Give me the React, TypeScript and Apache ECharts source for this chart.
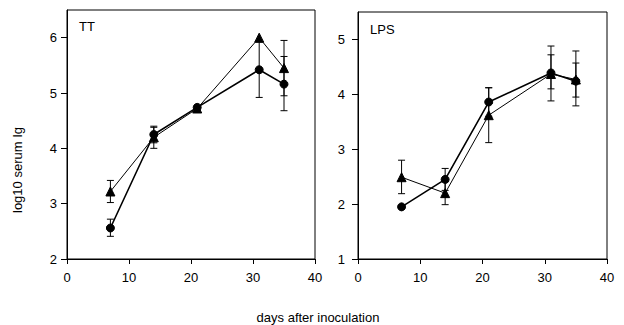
import React, { useEffect, useRef } from "react";
import * as echarts from "echarts";

const days = [7, 14, 21, 31, 35];

// TT panel
const ttTriMean = [3.22, 4.2, 4.72, 6.0, 5.45];
const ttTriLow = [3.02, 4.0, null, null, 4.95];
const ttTriHigh = [3.42, 4.4, null, null, 5.95];
const ttCirMean = [2.56, 4.25, 4.74, 5.42, 5.16];
const ttCirLow = [2.41, 4.1, null, 4.92, 4.68];
const ttCirHigh = [2.72, 4.38, null, 5.92, 5.66];

// LPS panel
const lpsTriMean = [2.49, 2.2, 3.62, 4.37, 4.27];
const lpsTriLow = [2.19, 1.99, 3.12, 3.88, 3.79];
const lpsTriHigh = [2.8, 2.41, 4.12, 4.88, 4.79];
const lpsCirMean = [1.95, 2.45, 3.86, 4.39, 4.24];
const lpsCirLow = [null, 2.25, 3.6, 4.1, 3.95];
const lpsCirHigh = [null, 2.65, 4.12, 4.72, 4.57];

const xTicks = [0, 10, 20, 30, 40];
const ttYTicks = [2, 3, 4, 5, 6];
const lpsYTicks = [1, 2, 3, 4, 5];

const FONT = "Liberation Sans, Arial, sans-serif";

function pairs(mean: number[]) {
  return days.map((d, i) => [d, mean[i]]);
}
function errData(low: (number | null)[], high: (number | null)[]) {
  const out: number[][] = [];
  days.forEach((d, i) => {
    if (low[i] != null && high[i] != null) out.push([d, low[i] as number, high[i] as number]);
  });
  return out;
}

function errSeries(idx: number, low: (number | null)[], high: (number | null)[]) {
  return {
    type: "custom",
    xAxisIndex: idx,
    yAxisIndex: idx,
    z: 1,
    encode: { x: 0, y: [1, 2] },
    data: errData(low, high),
    renderItem: (params: any, api: any) => {
      const x = api.value(0);
      const p1 = api.coord([x, api.value(1)]);
      const p2 = api.coord([x, api.value(2)]);
      const w = 3.5;
      const st = { stroke: "#000", lineWidth: 1 };
      return {
        type: "group",
        children: [
          { type: "line", shape: { x1: p1[0], y1: p1[1], x2: p2[0], y2: p2[1] }, style: st },
          { type: "line", shape: { x1: p1[0] - w, y1: p1[1], x2: p1[0] + w, y2: p1[1] }, style: st },
          { type: "line", shape: { x1: p2[0] - w, y1: p2[1], x2: p2[0] + w, y2: p2[1] }, style: st },
        ],
      };
    },
  };
}

function lineSeries(idx: number, mean: number[], symbol: string, size: number, lw: number) {
  return {
    type: "line",
    xAxisIndex: idx,
    yAxisIndex: idx,
    z: 3,
    data: pairs(mean),
    symbol,
    symbolSize: size,
    showAllSymbol: true,
    itemStyle: { color: "#000", borderColor: "#000" },
    lineStyle: { color: "#000", width: lw },
  };
}

function xAxis(idx: number) {
  return {
    type: "value",
    gridIndex: idx,
    min: 0,
    max: 40,
    interval: 10,
    axisLine: { show: true, lineStyle: { color: "#000", width: 1 } },
    axisTick: { show: true, length: 5, lineStyle: { color: "#000" }, customValues: xTicks },
    axisLabel: { color: "#000", fontSize: 13, fontFamily: FONT, margin: 12, customValues: xTicks },
    splitLine: { show: false },
  };
}

function yAxis(idx: number, min: number, max: number, ticks: number[], margin: number) {
  return {
    type: "value",
    gridIndex: idx,
    min,
    max,
    axisLine: { show: true, lineStyle: { color: "#000", width: 1 } },
    axisTick: { show: true, length: 6, lineStyle: { color: "#000" }, customValues: ticks },
    axisLabel: { color: "#000", fontSize: 13, fontFamily: FONT, margin, customValues: ticks },
    splitLine: { show: false },
  };
}

export default function App() {
  const ref = useRef<HTMLDivElement>(null);
  useEffect(() => {
    if (!ref.current) return;
    const chart = echarts.init(ref.current, null, { renderer: "svg" });
    chart.setOption({
      animation: false,
      backgroundColor: "#fff",
      grid: [
        { left: 67, right: 309, top: 10, bottom: 66, show: true, borderColor: "#000", borderWidth: 1 },
        { left: 358, right: 17, top: 12, bottom: 66, show: true, borderColor: "#000", borderWidth: 1 },
      ],
      xAxis: [xAxis(0), xAxis(1)],
      yAxis: [yAxis(0, 2, 6.5, ttYTicks, 10), yAxis(1, 1, 5.5, lpsYTicks, 13)],
      graphic: [
        { type: "text", left: 79, top: 20, style: { text: "TT", fontSize: 13, fontFamily: FONT, fill: "#000" } },
        { type: "text", left: 370, top: 23, style: { text: "LPS", fontSize: 13, fontFamily: FONT, fill: "#000" } },
        {
          type: "text",
          x: 318,
          y: 317,
          style: { text: "days after inoculation", fontSize: 13, fontFamily: FONT, fill: "#000", align: "center", verticalAlign: "middle" },
        },
        {
          type: "text",
          x: 17,
          y: 170,
          rotation: Math.PI / 2,
          style: { text: "log10 serum Ig", fontSize: 13, fontFamily: FONT, fill: "#000", align: "center", verticalAlign: "middle" },
        },
      ],
      series: [
        errSeries(0, ttTriLow, ttTriHigh),
        errSeries(0, ttCirLow, ttCirHigh),
        lineSeries(0, ttTriMean, "triangle", 9, 1),
        lineSeries(0, ttCirMean, "circle", 8, 1.6),
        errSeries(1, lpsTriLow, lpsTriHigh),
        errSeries(1, lpsCirLow, lpsCirHigh),
        lineSeries(1, lpsTriMean, "triangle", 9, 1),
        lineSeries(1, lpsCirMean, "circle", 8, 1.6),
      ],
    });
    return () => chart.dispose();
  }, []);
  return <div ref={ref} style={{ position: "absolute", left: 0, top: 0, width: 624, height: 325 }} />;
}
